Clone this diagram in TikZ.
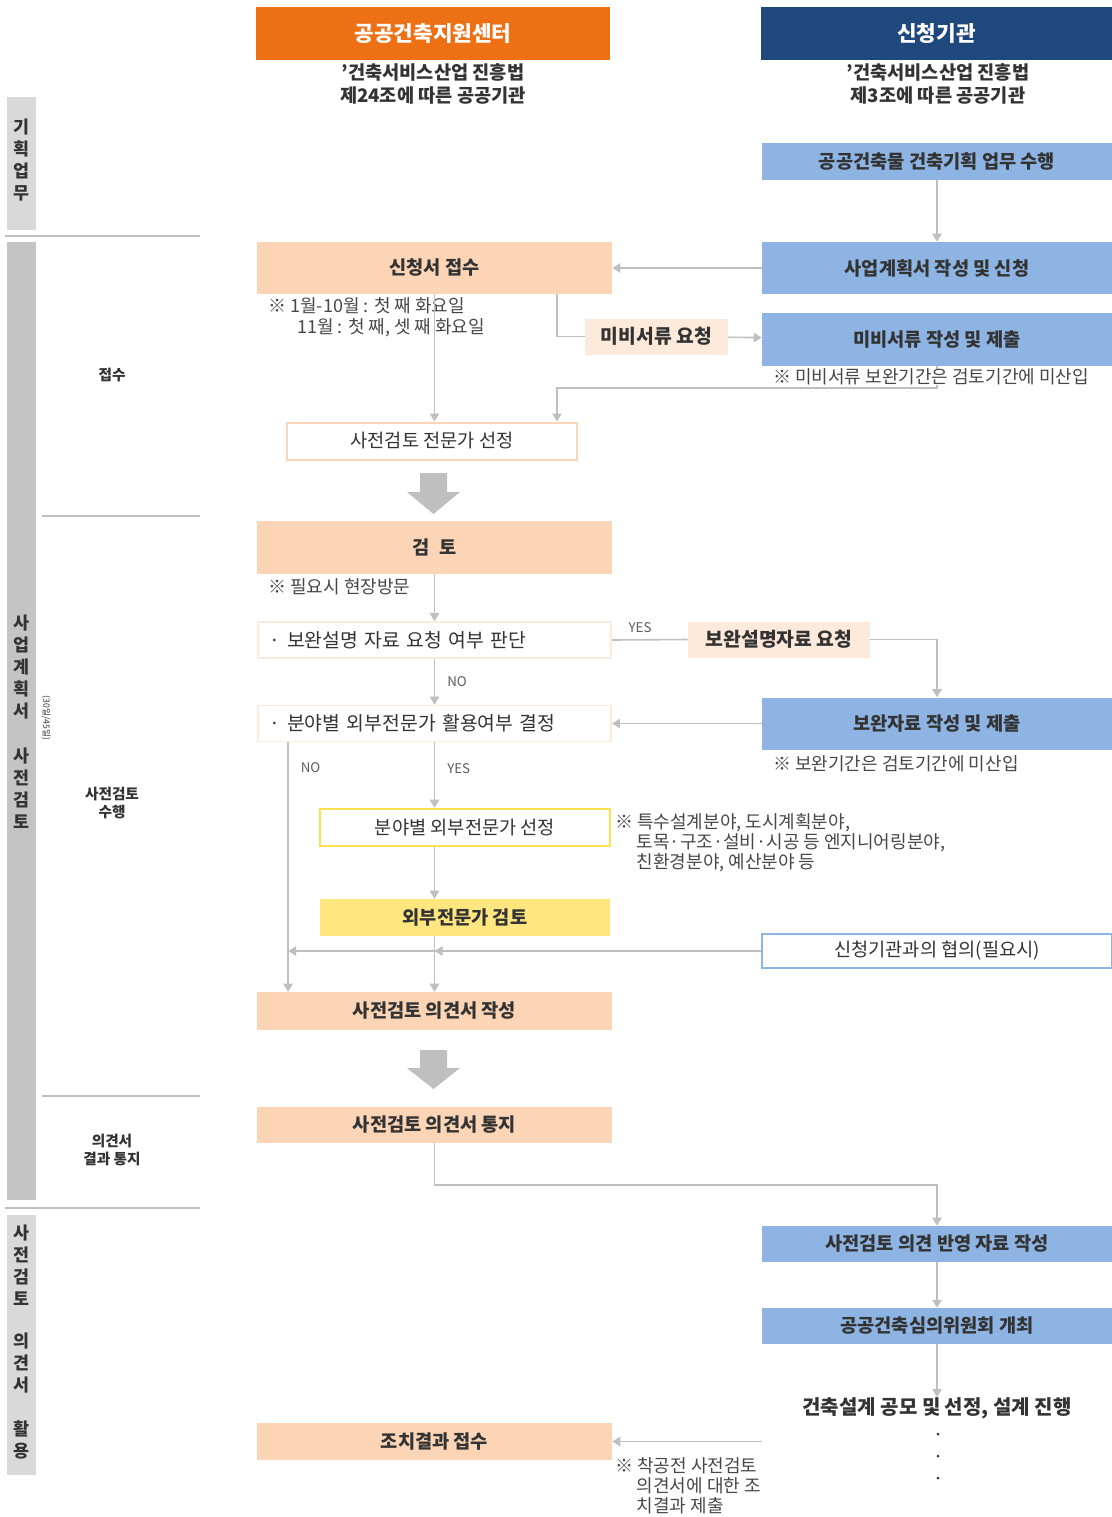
\documentclass[tikz,border=0pt]{standalone}
\usepackage{fontspec}
\setmainfont{Noto Sans CJK KR}
\usetikzlibrary{arrows.meta,positioning}
\definecolor{hdrorange}{HTML}{EE7014}
\definecolor{hdrnavy}{HTML}{1F497D}
\definecolor{boxblue}{HTML}{8DB4E2}
\definecolor{boxpeach}{HTML}{FBD5B5}
\definecolor{lightpeach}{HTML}{FDEADA}
\definecolor{boxyellow}{HTML}{FFE67F}
\definecolor{lineyellow}{HTML}{FFE14F}
\definecolor{linegray}{HTML}{BFBFBF}
\definecolor{bargray}{HTML}{C4C4C4}
\definecolor{barlight}{HTML}{D9D9D9}
\definecolor{txt}{HTML}{333333}
\begin{document}
\begin{tikzpicture}[x=0.75pt, y=-0.75pt, % one unit = one pixel, y going down
	> = {Triangle[width=7pt,length=6pt]}, % arrow head style
	every node/.style={inner sep=0pt, text=txt},
	flow/.style={draw=linegray, line width=1.2pt},
	header/.style={minimum height=39.75pt, text=white, font=\fontsize{16}{18}\selectfont\bfseries},
	subhead/.style={align=center, font=\fontsize{14}{17}\selectfont\bfseries},
	appl/.style={fill=boxblue, minimum width=262.5pt, font=\fontsize{14}{16}\selectfont\bfseries},
	cent/.style={fill=boxpeach, minimum width=266.25pt, font=\fontsize{14}{16}\selectfont\bfseries},
	centline/.style={draw=lightpeach, line width=1.2pt, fill=white, minimum height=27pt, inner xsep=9pt, text width=247pt, align=left, font=\fontsize{14.5}{16}\selectfont},
	req/.style={fill=lightpeach, minimum height=27pt, font=\fontsize{14.5}{16}\selectfont\bfseries},
	expert/.style={minimum width=217.5pt, minimum height=27.75pt, font=\fontsize{14}{16}\selectfont},
	note/.style={anchor=west, align=left, font=\fontsize{13.5}{15}\selectfont, text=txt!90},
	phase/.style={align=center, font=\fontsize{11}{14}\selectfont\bfseries},
	vlabel/.style={align=center, font=\fontsize{13}{16.5}\selectfont\bfseries},
	yesno/.style={font=\fontsize{10}{12}\selectfont, text=txt!80}]
	\useasboundingbox (0,0) rectangle (1112,1517);
	% left stage bars
	\fill[barlight] (7,97) rectangle (36,230);
	\fill[bargray] (7,242) rectangle (36,1200);
	\fill[barlight] (7,1215) rectangle (36,1475);
	\node[vlabel] (vplan) at (21.5,160) {기\\획\\업\\무};
	\node[vlabel] (vreview) at (21.5,722) {사\\업\\계\\획\\서\\[17pt]사\\전\\검\\토};
	\node[vlabel] (vuse) at (21.5,1342) {사\\전\\검\\토\\[15pt]의\\견\\서\\[16pt]활\\용};
	\node[rotate=-90, font=\fontsize{6.5}{8}\selectfont] (period) at (46,718) {(30일/45일)};
	\draw[linegray, line width=1.2pt] (5,236) -- (200,236);
	\draw[linegray, line width=1.2pt] (42,516) -- (200,516);
	\draw[linegray, line width=1.2pt] (42,1096) -- (200,1096);
	\draw[linegray, line width=1.2pt] (5,1208) -- (200,1208);
	\node[phase] (preceipt) at (112,375) {접수};
	\node[phase] (preview) at (112,803) {사전검토\\수행};
	\node[phase] (pnotify) at (112,1150) {의견서\\결과 통지};
	% headers
	\node[header, fill=hdrorange, minimum width=265.5pt] (hcenter) at (433,33.5) {공공건축지원센터};
	\node[header, fill=hdrnavy, minimum width=263.25pt] (happl) at (936.5,33) {신청기관};
	\node[subhead] (scenter) at (433,84) {'건축서비스산업 진흥법\\제24조에 따른 공공기관};
	\node[subhead] (sappl) at (938,84) {'건축서비스산업 진흥법\\제3조에 따른 공공기관};
	% applicant column
	\node[appl, minimum height=27.75pt] (plan) at (937,161.5) {공공건축물 건축기획 업무 수행};
	\node[appl, minimum height=39pt] (apply) at (937,268) {사업계획서 작성 및 신청};
	\node[appl, minimum height=39.75pt] (docs) at (937,339.5) {미비서류 작성 및 제출};
	\node[appl, minimum height=39pt] (suppl) at (937,723.5) {보완자료 작성 및 제출};
	\node[note] (nsuppl) at (773,764) {※ 보완기간은 검토기간에 미산입};
	\node[appl, fill=white, draw=boxblue, line width=1.5pt, minimum height=26pt, font=\fontsize{14}{16}\selectfont] (consult) at (937,951) {신청기관과의 협의(필요시)};
	\node[appl, minimum height=27pt] (reflect) at (937,1244) {사전검토 의견 반영 자료 작성};
	\node[appl, minimum height=27pt] (council) at (937,1326) {공공건축심의위원회 개최};
	\node[font=\fontsize{15}{17}\selectfont\bfseries] (design) at (937,1408) {건축설계 공모 및 선정, 설계 진행};
	\fill[txt] (938,1434) circle (1.5);
	\fill[txt] (938,1456) circle (1.5);
	\fill[txt] (938,1478) circle (1.5);
	% support centre column
	\node[cent, minimum height=39pt] (receipt) at (434.5,268) {신청서 접수};
	\node[note, anchor=north west, font=\fontsize{13.5}{15.75}\selectfont] (nreceipt) at (268,297) {※ 1월-10월 : 첫 째 화요일\\\hspace{1.6em}11월 : 첫 째, 셋 째 화요일};
	\node[req, minimum width=107.25pt] (missing) at (656.5,336.5) {미비서류 요청};
	\node[expert, draw=boxpeach, line width=1.5pt, fill=white] (select) at (432,441) {사전검토 전문가 선정};
	\node[cent, minimum height=39.75pt] (review) at (434.5,547.5) {검\enspace 토};
	\node[note] (nreview) at (268,587) {※ 필요시 현장방문};
	\node[centline] (judge) at (434.5,640) {· 보완설명 자료 요청 여부 판단};
	\node[req, minimum width=136.5pt] (explain) at (779,639.5) {보완설명자료 요청};
	\node[centline] (decide) at (434.5,723.5) {· 분야별 외부전문가 활용여부 결정};
	\node[expert, draw=lineyellow, line width=2pt, fill=white] (pick) at (465,827.5) {분야별 외부전문가 선정};
	\node[note, anchor=north west] (npick) at (615,813) {※ 특수설계분야, 도시계획분야,\\\hspace{1.2em}토목·구조·설비·시공 등 엔지니어링분야,\\\hspace{1.2em}친환경분야, 예산분야 등};
	\node[expert, fill=boxyellow, font=\fontsize{14}{16}\selectfont\bfseries] (outside) at (465,917.5) {외부전문가 검토};
	\node[cent, minimum height=28.5pt] (opinion) at (434.5,1011) {사전검토 의견서 작성};
	\node[cent, minimum height=27pt] (notify) at (434.5,1125) {사전검토 의견서 통지};
	\node[cent, minimum height=27.75pt] (result) at (434.5,1441.5) {조치결과 접수};
	\node[note, anchor=north west] (nresult) at (615,1457) {※ 착공전 사전검토\\\hspace{1.2em}의견서에 대한 조\\\hspace{1.2em}치결과 제출};
	% big arrows
	\fill[linegray] (420,473) -- (447,473) -- (447,492) -- (460,492) -- (433.5,514) -- (407,492) -- (420,492) -- cycle;
	\fill[linegray] (420,1050) -- (447,1050) -- (447,1068) -- (460,1068) -- (433.5,1089) -- (407,1068) -- (420,1068) -- cycle;
	% connectors
	\coordinate (kink) at (557,388);
	\coordinate (nobranch) at ([xshift=23.25pt]decide.south west);
	\coordinate (fromdesign) at (762,1441.5);
	\draw[flow,->] (plan) -- (apply);
	\draw[flow,->] (apply) -- (receipt);
	\draw[flow] ([xshift=-41.25pt]receipt.south east) |- (missing.west);
	\draw[flow,->] (missing) -- (docs);
	\draw[flow,->] (receipt.south) -- (receipt.south |- select.north);
	\draw[flow,->] (docs.south) |- (kink) -- (kink |- select.north);
	\draw[flow,->] (review) -- (judge);
	\draw[flow] (judge.east) -- node[yesno, above=5pt, pos=.37] {YES} (explain.west);
	\draw[flow,->] (explain.east) -| (suppl.north);
	\draw[flow,->] (suppl) -- (decide);
	\draw[flow,->] (judge) -- node[yesno, right=9pt] {NO} (decide);
	\draw[flow,->] (decide.south) -- node[yesno, right=9pt, pos=.4] {YES} (decide.south |- pick.north);
	\draw[flow,->] (nobranch) -- node[yesno, right=9pt, pos=.1] {NO} (nobranch |- opinion.north);
	\draw[flow,->] (decide.south |- pick.south) -- (decide.south |- outside.north);
	\draw[flow,->] (decide.south |- outside.south) -- (decide.south |- opinion.north);
	\draw[flow,->] (consult.west) -- (consult.west -| nobranch);
	\draw[flow,->] (consult.west) -- (consult.west -| opinion.north);
	\draw[flow,->] (notify.south) -- ++(0,42) -| (reflect.north);
	\draw[flow,->] (reflect) -- (council);
	\draw[flow,->] (council) -- (design);
	\draw[flow,->] (fromdesign) -- (result.east);
	% note over the docs connector
	\node[note, fill=white] (ndocs) at (773,377) {※ 미비서류 보완기간은 검토기간에 미산입};
\end{tikzpicture}
\end{document}
